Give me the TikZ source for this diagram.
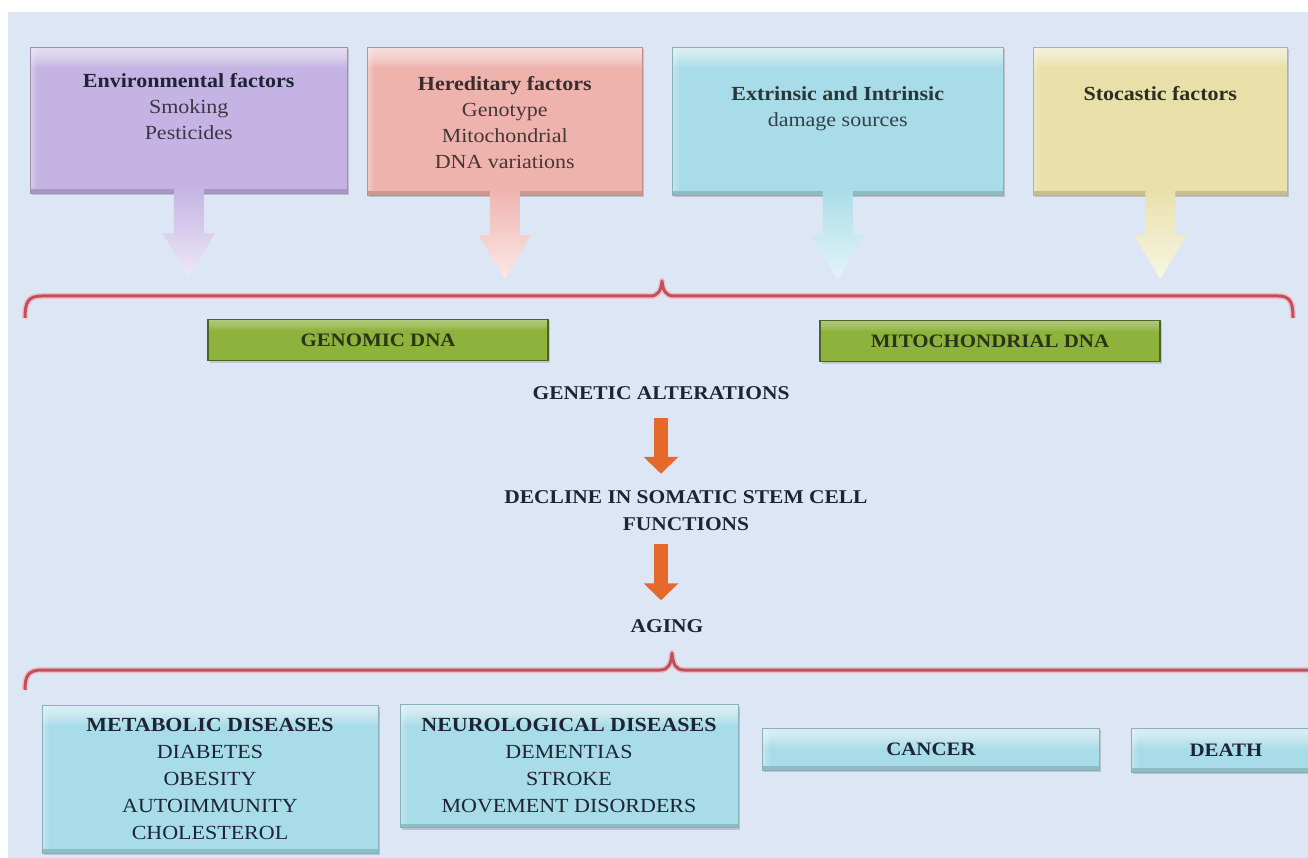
\documentclass[tikz,border=0pt]{standalone}
\usepackage{fontspec}
\setmainfont{Liberation Serif}[FakeStretch=1.1]
\usetikzlibrary{positioning,shadows,arrows.meta}

\definecolor{latar}{HTML}{DCE6F4}
\definecolor{ungu}{HTML}{C4B3E3}
\definecolor{merahmuda}{HTML}{EFB3AE}
\definecolor{biru}{HTML}{A8DCE8}
\definecolor{kuning}{HTML}{E8E0A8}
\definecolor{hijau}{HTML}{8DB33C}
\definecolor{hijaugelap}{HTML}{4E6128}
\definecolor{oranye}{HTML}{E4692A}
\definecolor{merahkurung}{HTML}{C24E5E}
\definecolor{tinta}{HTML}{1D2433}

% panah blok di bawah kotak atas
\newcommand{\panahblok}[2]{%
  \shade[top color=#2, bottom color=#2!30!white]
    ([xshift=-15pt,yshift=8pt]#1.south) -- ([xshift=-15pt,yshift=-40pt]#1.south)
    -- ([xshift=-26pt,yshift=-40pt]#1.south) -- ([yshift=-84pt]#1.south)
    -- ([xshift=26pt,yshift=-40pt]#1.south) -- ([xshift=15pt,yshift=-40pt]#1.south)
    -- ([xshift=15pt,yshift=8pt]#1.south) -- cycle;}

\begin{document}
\begin{tikzpicture}[x=1pt,y=-1pt,
    kotak/.style={fill=#1, draw=#1!80!black, line width=0.5pt, inner sep=0pt,
      drop shadow={opacity=0.35, shadow xshift=1.5pt, shadow yshift=-2pt},
      path picture={
        % kilap di tepi atas dan kiri
        \foreach \d in {2,4,...,20}
          \fill[white, opacity=0.09] (path picture bounding box.north west)
            rectangle ([yshift=-\d pt]path picture bounding box.north east);
        \foreach \d in {1,2,...,7}
          \fill[white, opacity=0.06] (path picture bounding box.north west)
            rectangle ([xshift=\d pt]path picture bounding box.south west);
        \fill[#1!85!black]
          (path picture bounding box.south west) rectangle ([yshift=4pt]path picture bounding box.south east);
      }},
    atas/.style={kotak=#1, anchor=north west},
    hijaubox/.style={fill=hijau, draw=hijaugelap, line width=1.5pt, inner sep=0pt,
      minimum width=340pt, minimum height=41pt, text=hijaugelap!55!black,
      font=\fontsize{19}{22}\selectfont\bfseries,
      drop shadow={opacity=0.3, shadow xshift=1.5pt, shadow yshift=-2pt},
      path picture={
        \foreach \d in {2,4,...,10}
          \fill[white, opacity=0.08] (path picture bounding box.north west)
            rectangle ([yshift=-\d pt]path picture bounding box.north east);
      }},
    teks/.style={inner sep=0pt, align=center, font=\fontsize{20}{26}\selectfont},
    bawah/.style={kotak=biru, align=center, text=tinta, font=\fontsize{20}{27}\selectfont},
    pusat/.style={inner sep=0pt, align=center, text=tinta, font=\fontsize{19.5}{27}\selectfont\bfseries},
    panahoranye/.style={draw=oranye, line width=14pt, -{Triangle[width=34pt,length=17pt]}},
    kurung/.style={draw=merahkurung, line width=3pt, line join=round,
      preaction={draw=merahkurung!35!white, line width=6pt, line join=round}}]
  \useasboundingbox (0,0) rectangle (1308,858);
  \fill[white] (0,0) rectangle (1308,858);
  \fill[latar] (8,12) rectangle (1308,858);

  % kotak faktor di atas
  \node[atas=ungu, minimum width=317pt, minimum height=146pt] (env) at (30,47) {};
  \node[atas=merahmuda, minimum width=275pt, minimum height=148pt] (here) at (367,47) {};
  \node[atas=biru, minimum width=331pt, minimum height=148pt] (ext) at (672,47) {};
  \node[atas=kuning, minimum width=254pt, minimum height=148pt] (sto) at (1033,47) {};

  \node[teks, below=26pt of env.north] (envt)
    {\textbf{\color{tinta}Environmental factors}\\ \color{ungu!30!black}Smoking\\ \color{ungu!30!black}Pesticides};
  \node[teks, below=29pt of here.north] (heret)
    {\textbf{\color{merahmuda!25!black}Hereditary factors}\\ \color{merahmuda!30!black}Genotype\\
     \color{merahmuda!30!black}Mitochondrial\\ \color{merahmuda!30!black}DNA variations};
  \node[teks, below=39pt of ext.north] (extt)
    {\textbf{\color{biru!25!black}Extrinsic and Intrinsic}\\ \color{biru!30!black}damage sources};
  \node[teks, below=39pt of sto.north] (stot)
    {\textbf{\color{kuning!20!black}Stocastic factors}};

  \panahblok{env}{ungu}
  \panahblok{here}{merahmuda}
  \panahblok{ext}{biru}
  \panahblok{sto}{kuning}

  % kurung kurawal atas
  \draw[kurung] (25,318) .. controls (25,302) and (28,296) .. (42,296) -- (650,296)
    .. controls (658,296) and (661,291) .. (662,281) .. controls (663,291) and (666,296) .. (674,296)
    -- (1278,296) .. controls (1290,296) and (1293,302) .. (1293,318);

  \node[hijaubox] (gdna) at (378,340) {GENOMIC DNA};
  \node[hijaubox] (mdna) at (990,341) {MITOCHONDRIAL DNA};

  % alur tengah
  \node[pusat] (gen) at (661,393) {GENETIC ALTERATIONS};
  \node[pusat] (decline) at (686,511) {DECLINE IN SOMATIC STEM CELL\\ FUNCTIONS};
  \node[pusat] (aging) at (667,626) {AGING};
  \draw[panahoranye] ([yshift=-18pt]gen.south) -- ([yshift=17pt]gen.south |- decline.north);
  \draw[panahoranye] ([yshift=-13pt]gen.south |- decline.south) -- ([yshift=19pt]gen.south |- aging.north);

  % kurung kurawal bawah
  \draw[kurung] (25,690) .. controls (25,676) and (28,670) .. (42,670) -- (660,670)
    .. controls (668,670) and (671,665) .. (672,653) .. controls (673,665) and (676,670) .. (684,670)
    -- (1308,670);

  % kotak penyakit
  \node[bawah, minimum width=336pt, minimum height=148pt] (meta) at (210,779)
    {\textbf{METABOLIC DISEASES}\\ DIABETES\\ OBESITY\\ AUTOIMMUNITY\\ CHOLESTEROL};
  \node[bawah, minimum width=338pt, minimum height=123pt] (neuro) at (569,766)
    {\textbf{NEUROLOGICAL DISEASES}\\ DEMENTIAS\\ STROKE\\ MOVEMENT DISORDERS};
  \node[bawah, minimum width=337pt, minimum height=42pt, font=\fontsize{19}{24}\selectfont\bfseries] (cancer) at (931,749) {CANCER};
  \node[bawah, minimum width=190pt, minimum height=44pt, font=\fontsize{19}{24}\selectfont\bfseries] (death) at (1226,750) {DEATH};
\end{tikzpicture}
\end{document}
